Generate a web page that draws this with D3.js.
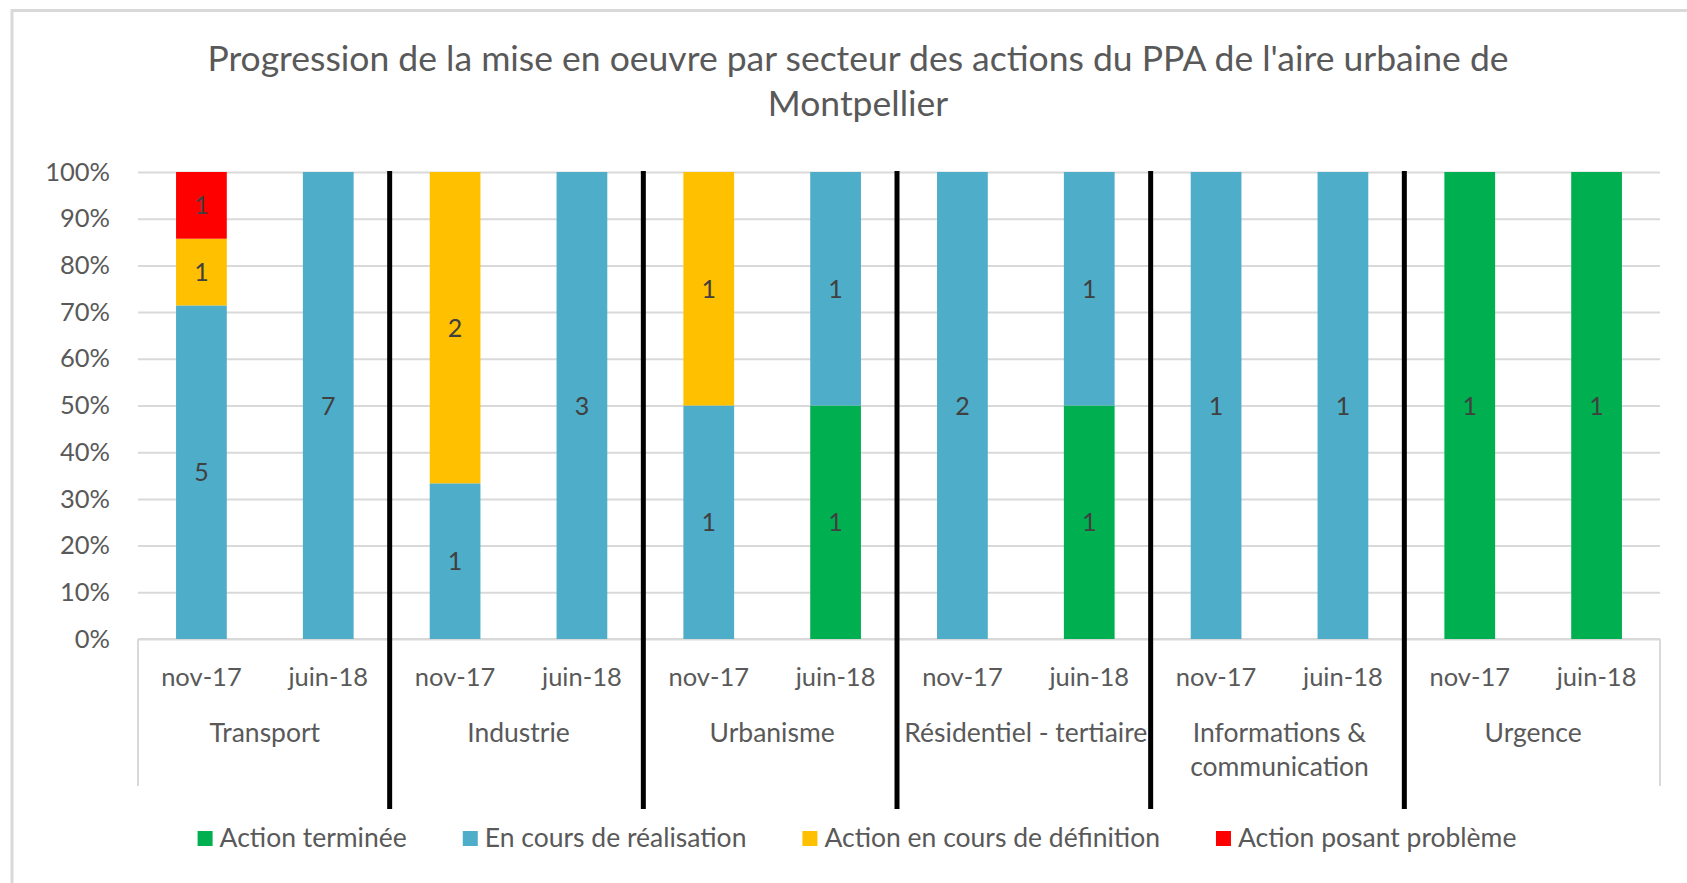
<!DOCTYPE html>
<html>
<head>
<meta charset="utf-8">
<script src="https://cdn.jsdelivr.net/npm/d3@7"></script>
<style>
  html, body { margin: 0; padding: 0; background: #fff; }
  svg { display: block; font-family: Lato, "Open Sans", sans-serif; }
</style>
</head>
<body>
<svg id="chart" width="1687" height="883"></svg>
<script>
// ---------- data ----------
const titleLines = ["Progression de la mise en oeuvre par secteur des actions du PPA de l'aire urbaine de", "Montpellier"];
const sectors = ["Transport", "Industrie", "Urbanisme", "Résidentiel - tertiaire", "Informations & communication", "Urgence"];
const periods = ["nov-17", "juin-18"];
const seriesNames = ["Action terminée", "En cours de réalisation", "Action en cours de définition", "Action posant problème"];
const seriesColors = ["#00B050", "#4EADC8", "#FFC000", "#FF0000"];
// values per sector, [nov-17, juin-18]
const terminee    = [[0,0],[0,0],[0,1],[0,1],[0,0],[1,1]];
const realisation = [[5,7],[1,3],[1,1],[2,1],[1,1],[0,0]];
const definition  = [[1,0],[2,0],[1,0],[0,0],[0,0],[0,0]];
const probleme    = [[1,0],[0,0],[0,0],[0,0],[0,0],[0,0]];
const yTicks = [0, 0.1, 0.2, 0.3, 0.4, 0.5, 0.6, 0.7, 0.8, 0.9, 1.0];

// ---------- build table ----------
const seriesValues = [terminee, realisation, definition, probleme];
const rows = [];
sectors.forEach((s, i) => periods.forEach((p, j) => {
  const row = { key: s + "|" + p, sector: s, period: p };
  seriesNames.forEach((n, k) => row[n] = seriesValues[k][i][j]);
  row.total = d3.sum(seriesNames, n => row[n]);
  rows.push(row);
}));
const stack = d3.stack().keys(seriesNames)
  .value((d, k) => d[k] / d.total);
const layers = stack(rows);

// ---------- layout ----------
const svg = d3.select("#chart");
const M = { left: 138, right: 1660, top: 172, bottom: 639 };
const textColor = "#595959";
const gridColor = "#D9D9D9";

// chart border
svg.append("path")
  .attr("d", "M12,900 L12,10.5 L1700,10.5")
  .attr("fill", "none").attr("stroke", gridColor).attr("stroke-width", 3);

const x = d3.scaleBand().domain(rows.map(d => d.key)).range([M.left, M.right]).paddingInner(0.6).paddingOuter(0.3);
const xOuter = d3.scaleBand().domain(rows.map(d => d.key)).range([M.left, M.right]).padding(0);
const y = d3.scaleLinear().domain([0, 1]).range([M.bottom, M.top]);

// title
const title = svg.append("text").attr("fill", textColor).attr("text-anchor", "middle")
  .style("font-size", "35.5px");
titleLines.forEach((t, i) => title.append("tspan").attr("x", 858).attr("y", 71 + i * 45).text(t));

// gridlines + y axis labels
const yAxis = d3.axisLeft(y).tickValues(yTicks).tickFormat(d3.format(".0%")).tickSize(-(M.right - M.left)).tickPadding(28);
const yg = svg.append("g").attr("transform", `translate(${M.left},0)`).call(yAxis);
yg.select(".domain").remove();
yg.selectAll(".tick line").attr("stroke", gridColor).attr("stroke-width", 2);
yg.selectAll(".tick text").attr("fill", textColor).style("font-size", "25.5px").style("font-family", "Lato");

// category axis frame
svg.append("line").attr("x1", M.left).attr("x2", M.right).attr("y1", y(0)).attr("y2", y(0)).attr("stroke", gridColor).attr("stroke-width", 2);
svg.append("line").attr("x1", M.left).attr("x2", M.left).attr("y1", y(0)).attr("y2", 786).attr("stroke", gridColor).attr("stroke-width", 2);
svg.append("line").attr("x1", M.right).attr("x2", M.right).attr("y1", y(0)).attr("y2", 786).attr("stroke", gridColor).attr("stroke-width", 2);

// bars
const gLayers = svg.append("g").selectAll("g").data(layers).join("g")
  .attr("fill", (d, i) => seriesColors[i]);
gLayers.selectAll("rect").data(d => d.filter(s => s[1] - s[0] > 0)).join("rect")
  .attr("x", d => x(d.data.key))
  .attr("width", x.bandwidth())
  .attr("y", d => y(d[1]))
  .attr("height", d => y(d[0]) - y(d[1]));

// data labels
const labels = [];
layers.forEach((L, i) => L.forEach(s => {
  const v = s.data[L.key];
  if (v > 0) labels.push({ v, cx: x(s.data.key) + x.bandwidth() / 2, cy: y((s[0] + s[1]) / 2) });
}));
svg.append("g").selectAll("text").data(labels).join("text")
  .attr("x", d => d.cx).attr("y", d => d.cy + 9)
  .attr("text-anchor", "middle").attr("fill", "#404040").style("font-size", "25px")
  .text(d => d.v);

// period tick labels
svg.append("g").selectAll("text").data(rows).join("text")
  .attr("x", d => xOuter(d.key) + xOuter.bandwidth() / 2).attr("y", 686)
  .attr("text-anchor", "middle").attr("fill", textColor).style("font-size", "25.5px")
  .text(d => d.period);

// sector labels
const groupW = xOuter.bandwidth() * periods.length;
const wrapLabel = s => s === "Informations & communication" ? ["Informations &", "communication"] : [s];
const sg = svg.append("g").selectAll("text").data(sectors).join("text")
  .attr("text-anchor", "middle").attr("fill", textColor).style("font-size", "26.5px");
sg.each(function(s, i) {
  const cx = M.left + groupW * i + groupW / 2;
  wrapLabel(s).forEach((line, k) => d3.select(this).append("tspan").attr("x", cx).attr("y", 742 + k * 34).text(line));
});

// separator lines (black) between sectors
const seps = sectors.slice(1).map((s, i) => M.left + groupW * (i + 1) - 2);
svg.append("g").selectAll("line").data(seps).join("line")
  .attr("x1", d => d).attr("x2", d => d).attr("y1", 171).attr("y2", 809)
  .attr("stroke", "#000").attr("stroke-width", 5);

// legend
const lg = svg.append("g");
const items = lg.selectAll("g").data(seriesNames).join("g");
items.append("rect").attr("width", 15).attr("height", 15).attr("y", 831).attr("fill", (d, i) => seriesColors[i]);
items.append("text").attr("x", 22).attr("y", 847).attr("fill", textColor).style("font-size", "26.5px").text(d => d);
let cursor = 0;
const widths = [];
items.each(function() { widths.push(22 + this.querySelector("text").getComputedTextLength()); });
const gap = 56;
const total = d3.sum(widths) + gap * (widths.length - 1);
cursor = 857 - total / 2;
items.each(function(d, i) { d3.select(this).attr("transform", `translate(${cursor},0)`); cursor += widths[i] + gap; });
</script>
</body>
</html>
